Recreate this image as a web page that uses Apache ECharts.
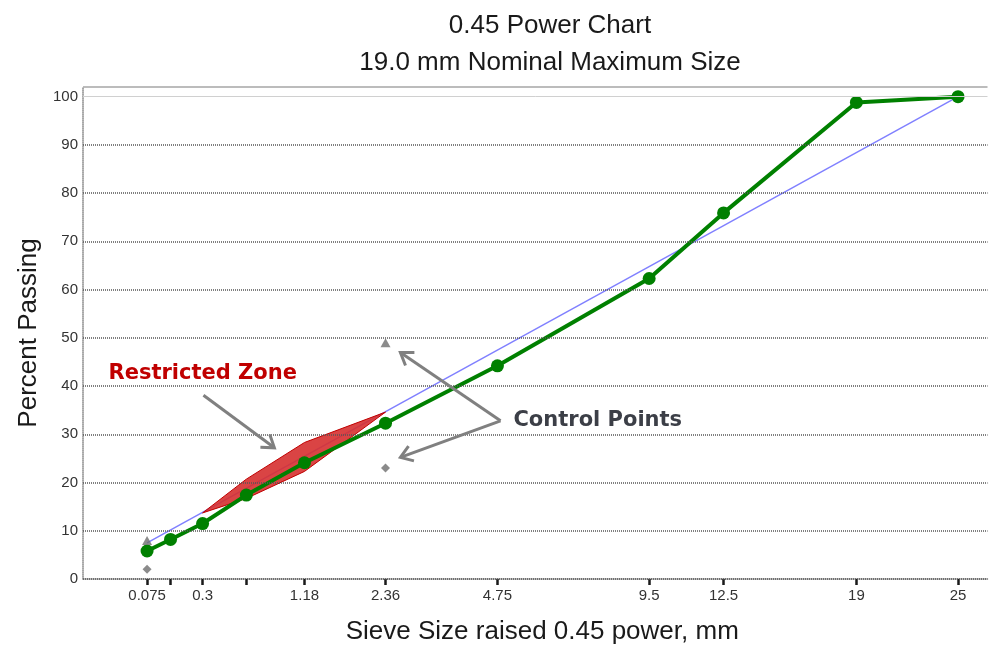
<!DOCTYPE html>
<html>
<head>
<meta charset="utf-8">
<script src="https://cdn.jsdelivr.net/npm/echarts@6/dist/echarts.min.js"></script>
<style>
  html, body { margin: 0; padding: 0; background: #fff; }
  #chart { width: 990px; height: 646px; }
</style>
</head>
<body>
<div id="chart"></div>
<script>
// Sieve sizes (mm) and their axis labels (blank = tick only)
const sieves = [0.075, 0.15, 0.3, 0.6, 1.18, 2.36, 4.75, 9.5, 12.5, 19, 25];
const tickLabels = ['0.075', '', '0.3', '', '1.18', '2.36', '4.75', '9.5', '12.5', '19', '25'];

// Gradation: percent passing each sieve
const passing = [5.8, 8.2, 11.5, 17.4, 24.1, 32.3, 44.2, 62.3, 75.9, 98.8, 100];

// Maximum density line end points
const maxDensitySieves = [0.075, 25];
const maxDensity = [7.5, 100];

// Restricted zone limits
const zoneSieves = [0.3, 0.6, 1.18, 2.36];
const zoneLower = [13.7, 16.7, 22.3, 34.6];
const zoneUpper = [13.7, 20.7, 28.3, 34.6];

// Control points
const controlSieves = [0.075, 2.36];
const controlUpper = [8, 49];
const controlLower = [2, 23];

// Horizontal grid lines
const gridValues = [0, 10, 20, 30, 40, 50, 60, 70, 80, 90];

const POWER = 0.45;
const px = s => Math.pow(s, POWER);
const FONT = '"Liberation Sans", Arial, sans-serif';

const chart = echarts.init(document.getElementById('chart'), null, { renderer: 'canvas' });

const labelFor = v => {
  for (let i = 0; i < sieves.length; i++) {
    if (Math.abs(px(sieves[i]) - v) < 1e-6) return tickLabels[i];
  }
  return '';
};

const option = {
  animation: false,
  backgroundColor: '#ffffff',
  title: {
    text: '0.45 Power Chart\n19.0 mm Nominal Maximum Size',
    left: 545,
    top: 2,
    textAlign: 'center',
    textStyle: { fontFamily: FONT, fontSize: 26, fontWeight: 'normal', color: '#1a1a1a', lineHeight: 37 }
  },
  grid: { left: 83, right: 2.5, top: 87, bottom: 67, outerBoundsMode: 'none', containLabel: false },
  xAxis: {
    type: 'value',
    min: 0,
    max: 4.4,
    name: 'Sieve Size raised 0.45 power, mm',
    nameLocation: 'middle',
    nameGap: 40,
    nameTextStyle: { fontFamily: FONT, fontSize: 26, color: '#1a1a1a', padding: [0, 0, 0, 14] },
    axisLine: { lineStyle: { color: '#a6a6a6', width: 1.5 } },
    axisTick: {
      customValues: sieves.map(px),
      length: 6,
      lineStyle: { color: '#1a1a1a', width: 2.5 }
    },
    axisLabel: {
      customValues: sieves.filter((s, i) => tickLabels[i] !== '').map(px),
      formatter: labelFor,
      fontFamily: FONT,
      fontSize: 15,
      color: '#333',
      margin: 9
    },
    splitLine: { show: false }
  },
  yAxis: {
    type: 'value',
    min: 0,
    max: 102,
    interval: 10,
    name: 'Percent Passing',
    nameLocation: 'middle',
    nameGap: 37,
    nameTextStyle: { fontFamily: FONT, fontSize: 26, color: '#1a1a1a' },
    axisLine: { show: true, lineStyle: { color: '#8c8c8c', type: [1, 1], width: 1.5 } },
    axisTick: { show: false },
    axisLabel: {
      formatter: v => (v % 10 === 0 ? String(v) : ''),
      fontFamily: FONT,
      fontSize: 15,
      color: '#333',
      margin: 5
    },
    splitLine: { show: false }
  },
  series: [
    {
      name: 'Grid',
      type: 'line',
      data: [],
      silent: true,
      z: 1,
      markLine: {
        silent: true,
        symbol: 'none',
        label: { show: false },
        data: gridValues.map(v => ({ yAxis: v, lineStyle: { color: '#555', type: [1, 1], width: 1.5 } }))
          .concat([
            { yAxis: 100, lineStyle: { color: '#d0d0d0', type: 'solid', width: 1 } },
            { yAxis: 102, lineStyle: { color: '#a6a6a6', type: 'solid', width: 1.5 } }
          ])
      }
    },
    {
      name: 'Maximum Density Line',
      type: 'line',
      z: 2,
      data: maxDensitySieves.map((s, i) => [px(s), maxDensity[i]]),
      showSymbol: false,
      lineStyle: { color: '#8080ff', width: 1.5 }
    },
    {
      name: 'Restricted Zone',
      type: 'custom',
      z: 3,
      data: zoneSieves.map((s, i) => [px(s), zoneLower[i]]),
      encode: { x: 0, y: 1 },
      renderItem: (params, api) => {
        if (params.dataIndex !== 0) return null;
        const pts = [];
        zoneSieves.forEach((s, i) => pts.push(api.coord([px(s), zoneLower[i]])));
        for (let i = zoneSieves.length - 1; i >= 0; i--) pts.push(api.coord([px(zoneSieves[i]), zoneUpper[i]]));
        return {
          type: 'polygon',
          shape: { points: pts },
          style: { fill: 'rgba(214,48,48,0.9)', stroke: '#c00000', lineWidth: 1 }
        };
      }
    },
    {
      name: 'Gradation',
      type: 'line',
      z: 4,
      data: sieves.map((s, i) => [px(s), passing[i]]),
      symbol: 'circle',
      symbolSize: 13,
      lineStyle: { color: '#008000', width: 4 },
      itemStyle: { color: '#008000' }
    },
    {
      name: 'Control Upper',
      type: 'scatter',
      z: 5,
      data: controlSieves.map((s, i) => [px(s), controlUpper[i]]),
      symbol: 'triangle',
      symbolSize: [10, 9],
      itemStyle: { color: '#6e6e6e' }
    },
    {
      name: 'Control Lower',
      type: 'scatter',
      z: 5,
      data: controlSieves.map((s, i) => [px(s), controlLower[i]]),
      symbol: 'diamond',
      symbolSize: [9, 9],
      itemStyle: { color: '#6e6e6e' }
    }
  ]
};

chart.setOption(option);

// Callouts, placed in data units and converted to pixels
const restrictedText = { at: [0.124, 42.5], text: 'Restricted Zone', color: '#c00000' };
const restrictedArrows = [[[0.586, 38.1], [0.931, 27.2]]];
const controlText = { at: [2.094, 32.8], text: 'Control Points', color: '#3c3f47' };
const controlArrows = [
  [[2.031, 32.8], [1.544, 46.95]],
  [[2.031, 32.8], [1.544, 25.2]]
];

const toPx = p => chart.convertToPixel({ gridIndex: 0 }, p);

function arrow(from, to) {
  const a = toPx(from), b = toPx(to);
  const ang = Math.atan2(b[1] - a[1], b[0] - a[0]);
  const len = 14, spread = 0.6;
  const h1 = [b[0] - len * Math.cos(ang - spread), b[1] - len * Math.sin(ang - spread)];
  const h2 = [b[0] - len * Math.cos(ang + spread), b[1] - len * Math.sin(ang + spread)];
  const style = { stroke: '#808080', lineWidth: 3, fill: null, lineCap: 'butt', lineJoin: 'miter' };
  return [
    { type: 'polyline', silent: true, z: 10, shape: { points: [a, b] }, style },
    { type: 'polyline', silent: true, z: 10, shape: { points: [h1, b, h2] }, style }
  ];
}

function label(t) {
  const p = toPx(t.at);
  return {
    type: 'text', silent: true, z: 10,
    x: p[0], y: p[1],
    style: {
      text: t.text,
      fill: t.color,
      font: 'bold 21px "DejaVu Sans", "Open Sans", sans-serif',
      textAlign: 'left',
      textVerticalAlign: 'middle'
    }
  };
}

const elements = [label(restrictedText), label(controlText)];
restrictedArrows.concat(controlArrows).forEach(([f, t]) => elements.push(...arrow(f, t)));
chart.setOption({ graphic: { elements } });
</script>
</body>
</html>
